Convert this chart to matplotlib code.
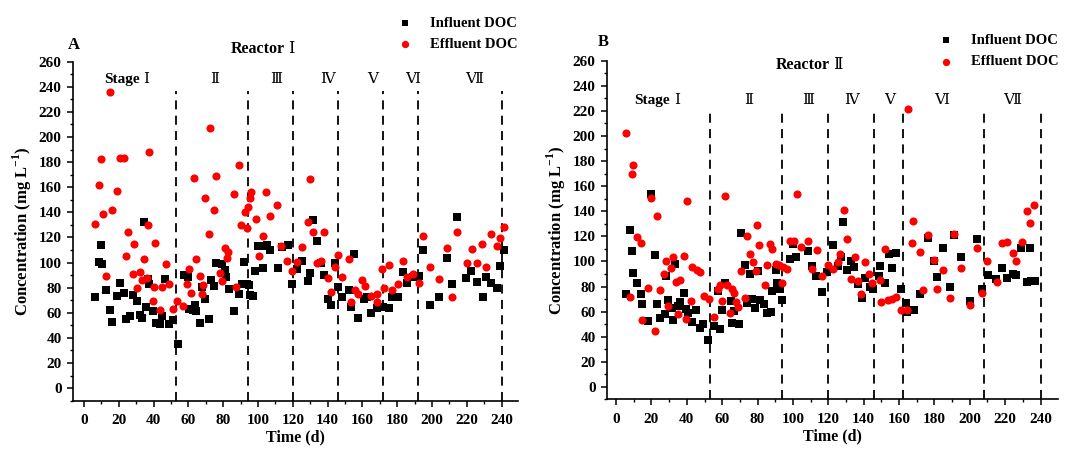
import matplotlib
matplotlib.use("Agg")
import matplotlib.pyplot as plt
from matplotlib.ticker import MultipleLocator

plt.rcParams['font.family'] = ['Liberation Serif', 'DejaVu Serif', 'Noto Sans CJK SC']
plt.rcParams['mathtext.fontset'] = 'custom'
plt.rcParams['mathtext.rm'] = 'Liberation Serif:bold'
plt.rcParams['mathtext.bf'] = 'Liberation Serif:bold'

# Reactor I
a_inf_day = [6.5, 8.6, 9.6, 10.5, 12.8, 14.8, 15.9, 19, 20.9, 23.2, 23.9, 26.3, 28.4, 30.3, 32.2, 33.5,
             34.5, 35.5, 36.8, 37.4, 39.7, 41.4, 43.7, 44.8, 46.7, 48.9, 51.1, 54, 57.3, 59.6, 60.3, 62.4,
             63.6, 64.5, 66.7, 67.8, 69.7, 71.8, 72.8, 74.7, 76, 79.1, 80.8, 81.8, 83.1, 86, 89.3, 90.6,
             92.1, 93.4, 95, 95.6, 97.3, 98.3, 100.2, 102.7, 103.4, 105.4, 106.9, 111.3, 113.6, 117, 119.4,
             122.6, 125.5, 128.5, 129.7, 131.4, 133.7, 136, 137.7, 140, 142, 144.3, 146.2, 148.1, 152.5,
             153.4, 155.3, 157.7, 161.1, 162.8, 164.8, 168.2, 172, 175.5, 177, 180.5, 183.5, 185.4, 188.9,
             192.7, 194.8, 199, 204.2, 208.3, 211.3, 214.6, 219.5, 222.6, 225.9, 229, 231, 234.1, 237.2,
             239.1, 241.4]
a_inf_doc = [72.9, 100.3, 114.1, 99, 78.5, 62.1, 52.5, 73.5, 84.1, 76.1, 54.9, 57.6, 74.3, 69.3, 58.4, 56,
             132.4, 64.5, 86.8, 83, 61.3, 52, 51.4, 57.6, 86.8, 51.4, 54.4, 35, 90.2, 88.6, 63.1, 62.6,
             66.6, 61.8, 51.8, 80.9, 70.9, 55.4, 86, 81.7, 100, 98.7, 94.2, 88.9, 79.3, 61.5, 75.1, 83.3,
             100.3, 83.3, 82.2, 74.3, 73.2, 93.6, 113.5, 96, 113.5, 114.3, 109.9, 96, 112.3, 114.1, 83,
             94.7, 101.6, 85.7, 91.6, 134, 117.5, 99.5, 90.2, 71.1, 66.3, 99.5, 80.4, 72.9, 78,
             65, 106.7, 55.7, 71.1, 72.9, 59.7, 63.7, 64.5, 64.2, 72.9, 72.9, 92.6, 84.1, 88.9,
             89.4, 109.9, 66.3, 72.5, 104, 83, 136, 88.1, 93.6, 84.9, 72.5, 88.9, 83.6, 79.6,
             97.4, 110.1]
a_eff_day = [6.3, 8.6, 9.8, 10.7, 12.8, 14.9, 15.9, 19, 20.9, 23.2, 23.9, 25.5, 28.2, 28.7, 30.3, 32.2,
             33.2, 34.5, 36, 36.6, 37.4, 39.7, 40.4, 40.6, 43.5, 44.8, 46.9, 48.9, 51, 53.7, 57.1, 59.4,
             60.3, 61.3, 63.4, 64.2, 66.5, 67.6, 68.6, 69.5, 71.7, 72.6, 74.9, 75.9, 78.2, 79.2, 80.8,
             81.9, 82.9, 86, 87.2, 89.3, 90.2, 92.5, 93.4, 94.4, 95.4, 96.2, 98.7, 100.3, 102.7, 104.6,
             106.9, 111.1, 113, 116.5, 119.4, 122.6, 125.5, 128.5, 129.7, 131.6, 133.7, 136, 137.8, 140,
             142, 144.3, 146.2, 148.1, 152.5, 153.4, 155.7, 157.7, 159.6, 161.7, 164.8, 168.2, 168.4,
             171.1, 172.2, 175.1, 177, 180.5, 183.5, 185.4, 188.9, 192.7, 194.8, 199, 204.2, 208.3, 211.3,
             214.6, 219.9, 222.8, 225.9, 228.9, 231, 234.1, 237.2, 239.3, 241.4]
a_eff_doc = [130.8, 161.9, 182.3, 138.8, 89.4, 236.2, 141.7, 156.8, 183.6, 183.6, 105.1, 124.2, 90.8, 114.9,
             79.6, 92.8, 86.2, 102.7, 88.1, 130, 187.9, 69.7, 80.4, 115.7, 62.3, 80.7, 99, 83.3, 63.4, 69.7,
             65.8, 83.3, 95, 76.1, 167.4, 102.9, 89.4, 75.3, 82.2, 151.5, 122.9, 207.5, 142, 169.3, 91.6,
             85.4, 111.7, 103.7, 108.3, 154.5, 80.7, 177.5, 130.3, 140.1, 127.4, 144.1, 151.8, 156, 134.8,
             105.1, 121.3, 156, 137.4, 145.7, 113.5, 101.1, 93.6, 100.8, 112.3, 132.4, 166.9, 124.2, 99.5,
             101.6, 124.2, 87.6, 76.4, 96.6, 105.9, 88.6, 102.9, 69, 78.3, 75.1, 86, 81.4, 73.7, 68.5, 75.1,
             94.7, 80.1, 98.4, 78, 82.8, 101.1, 88.4, 90.8, 83.6, 121.3, 96.3, 87, 112, 72.9,
             124.2, 100, 110.9, 100, 114.9, 96.8, 122.9, 113.1, 119.4, 128.2]

# Reactor II
b_inf_day = [5.6, 7.9, 8.8, 9.8, 11.9, 13.9, 14.9, 18.3, 19.8, 22, 23.2, 25, 27.7, 28.1, 29.2, 31.4, 32.2,
             33.3, 35.2, 36.1, 38.2, 39.5, 40.8, 43.1, 45.2, 47.4, 49.3, 52.1, 55.5, 57.6, 58.7, 59.7, 61.5,
             64.8, 65.5, 66.6, 69.6, 70.6, 72.7, 74, 75.8, 77, 78.7, 80, 81.3, 83.7, 85.1, 87.4, 88.3, 90.2,
             91.1, 92.6, 93.9, 98.3, 100.1, 102, 108.6, 110.5, 113.3, 116.5, 119.3, 122.7, 125.7, 126.9,
             128.4, 130.6, 133.1, 134.6, 136.8, 139.1, 141, 143.4, 145.3, 148.5, 149.5, 152.3, 154.3, 156.2,
             158.1, 161.3, 164.1, 164.5, 168.4, 171.7, 176.6, 179.6, 181.6, 184.6, 188.8, 191, 194.8, 199.9,
             204.2, 206.8, 210.2, 214.9, 218.1, 221.3, 224.2, 226.4, 229.2, 232.1, 234.3, 234.5, 236.6]
b_inf_doc = [74.4, 125.1, 108, 90.7, 82.7, 73.9, 66.4, 52.6, 153.9, 105.1, 66.4, 55.2, 57.9, 88.6, 69.6, 62.7,
             53.4, 97.9, 64.3, 67.8, 75.2, 61.9, 59.2, 52, 61.4, 47.2, 49.9, 37.4, 48.8, 76.6, 46.4, 61.4, 82.7,
             68.6, 51, 60.6, 50.2, 122.7, 97.1, 67.2, 90.4, 69.9, 62.7, 92.6, 69.1, 65.9, 59.2, 60, 76.3, 93.1,
             82.7, 77.9, 69.4, 101.9, 113.9, 103.8, 108.6, 96.6, 88.6, 76, 92, 113.4, 96.6, 103.2,
             131.2, 93.1, 100, 95.2, 81.9, 71.2, 87.2, 80, 78.2, 88.6, 96, 83.2, 105.9, 94.7,
             106.4, 77.9, 67.2, 60, 61.1, 74.4, 118.4, 100, 87.8, 110.4, 79.5, 121.4, 103.8, 68.6,
             117.9, 78.4, 89.4, 85.9, 94.7, 86.7, 90.4, 89.1, 110.7, 84, 110.7, 84.6, 84.6]
b_eff_day = [5.6, 7.9, 8.8, 9.6, 11.9, 13.9, 14.7, 17.9, 19.8, 22, 23, 24.8, 26.9, 28.1, 29.2, 31.1, 32.4,
             33.9, 35.2, 36.1, 38.4, 39.5, 40.3, 42.3, 43.1, 45.5, 47.6, 49.5, 52.3, 55.5, 57.4, 58.7, 59.7,
             61.5, 62.8, 64.5, 65.7, 66.8, 67.6, 69.1, 70.6, 72.7, 73.8, 75.8, 77.2, 78.9, 79.8, 80.9, 84,
             85.1, 87, 87.9, 90.2, 92.2, 93.9, 94.1, 96.4, 98.3, 100.5, 102.2, 104.3, 108.6, 110.5, 113.7,
             116.7, 119.9, 122.7, 125.5, 126.5, 128.6, 130.6, 132.7, 135, 136.8, 138.7, 141, 142.9, 144.7,
             149.1, 150, 151.9, 153.8, 156.2, 158.1, 161.3, 164.5, 165, 167.5, 167.9, 171.7, 173.6, 176.3,
             179.7, 181.6, 184.8, 188.8, 190.9, 194.8, 199.9, 204, 206.8, 209.9, 215.3, 218.1, 221.3, 224.2,
             226.4, 229.4, 232.2, 234.2, 236.4]
b_eff_doc = [202.4, 72, 169.6, 176.6, 119.2, 114.7, 53.4, 79.2, 150.7, 44.8, 136, 77.4, 89.9, 100.6, 64.6, 94.7,
             103.2, 83.8, 57.9, 85.4, 104.6, 53.9, 148.3, 68.6, 95.2, 93.4, 91.8, 72.6, 70.4, 55.8, 77.9, 81.4,
             68.3, 152, 81.4, 58.7, 78.4, 75, 68, 63.8, 92.6, 71.2, 120.6, 105.9, 99.8, 92.6, 129.1, 113.4, 81.4,
             97.1, 113.9, 109.6, 97.9, 97.4, 82.7, 95.2, 93.9, 116, 116, 153.4, 111.8, 116, 93.9, 109.1,
             88.6, 97.1, 93.9, 99.8, 105.9, 141.1, 117.9, 86.4, 103.2, 84.6, 73.9, 99.2, 89.9, 83,
             85.1, 67.8, 109.9, 69.4, 70.2, 71.8, 61.4, 61.1, 221.9, 114.7, 132.6, 107.8, 77.4, 121.1,
             101.4, 78.2, 93.1, 71.2, 121.9, 95, 65.4, 110.4, 75, 100, 84, 114.4, 115.2, 106.4,
             100.3, 115.8, 140.6, 130.4, 144.8]

a_bounds = [53, 94, 120, 146, 172, 192, 240]
b_bounds = [53, 94, 120, 146, 162, 208, 240]
stage_names = ['Ⅰ', 'Ⅱ', 'Ⅲ', 'Ⅳ', 'Ⅴ', 'Ⅵ', 'Ⅶ']
a_stage_x = [28.5, 75.3, 110.3, 140, 165.7, 189, 224.3]
b_stage_x = [27.1, 75.1, 108.6, 133.4, 154.7, 184.3, 224]

fig = plt.figure(figsize=(10.71, 4.51), dpi=100)
axA = fig.add_axes([0.0679, 0.1115, 0.4158, 0.7517])
axB = fig.add_axes([0.5665, 0.1142, 0.4214, 0.7512])


def style(ax, xlim):
    ax.set_xlim(*xlim)
    ax.set_ylim(-10, 260)
    ax.spines['top'].set_visible(False)
    ax.spines['right'].set_visible(False)
    for s in ('left', 'bottom'):
        ax.spines[s].set_linewidth(1.2)
    ax.xaxis.set_major_locator(MultipleLocator(20))
    ax.xaxis.set_minor_locator(MultipleLocator(10))
    ax.yaxis.set_major_locator(MultipleLocator(20))
    ax.yaxis.set_minor_locator(MultipleLocator(10))
    ax.tick_params(which='major', direction='out', length=4.5, width=1.1, labelsize=11)
    ax.tick_params(which='minor', direction='out', length=2.5, width=1.0)
    ax.tick_params(axis='x', pad=5)
    for lab in ax.get_xticklabels() + ax.get_yticklabels():
        lab.set_fontweight('bold')
    ax.set_xlabel('Time (d)', fontsize=11.5, fontweight='bold', labelpad=2)
    ax.set_ylabel(r'Concentration (mg L$^{-1}$)', fontsize=12, fontweight='bold', labelpad=3)


def panel(ax, inf_d, inf_c, eff_d, eff_c, bounds, top, stage_x, stage_y, xlim):
    ax.scatter(inf_d, inf_c, marker='s', s=26, c='black', linewidths=0, label='Influent DOC', zorder=3)
    ax.scatter(eff_d, eff_c, marker='o', s=34, c='#ff0000', linewidths=0, label='Effluent DOC', zorder=4)
    ax.vlines(bounds, -10, top, colors='black', linestyles=(0, (5, 3.5)), linewidth=1.3, zorder=2)
    for i, (sx, nm) in enumerate(zip(stage_x, stage_names)):
        if i == 0:
            ax.text(sx + 3.5, stage_y, 'Stage', fontsize=11, fontweight='bold', ha='right', va='center')
            ax.text(sx + 5.5, stage_y, nm, fontsize=11, ha='left', va='center')
        else:
            ax.text(sx, stage_y, nm, fontsize=11, ha='center', va='center')
    style(ax, xlim)


panel(axA, a_inf_day, a_inf_doc, a_eff_day, a_eff_doc, a_bounds, 237, a_stage_x, 246, (-6.5, 249.4))
panel(axB, b_inf_day, b_inf_doc, b_eff_day, b_eff_doc, b_bounds, 222, b_stage_x, 228.6, (-5.3, 249.9))

axA.text(115.3, 270, 'Reactor', fontsize=11.5, fontweight='bold', ha='right', va='center', clip_on=False)
axA.text(117, 270, 'Ⅰ', fontsize=11.5, ha='left', va='center', clip_on=False)
axB.text(120.8, 256.6, 'Reactor', fontsize=11.5, fontweight='bold', ha='right', va='center')
axB.text(122.5, 256.6, 'Ⅱ', fontsize=11.5, ha='left', va='center')

fig.text(74 / 1071, 1 - 45 / 451, 'A', fontsize=12, fontweight='bold', ha='center', va='center')
fig.text(603.3 / 1071, 1 - 41.7 / 451, 'B', fontsize=12, fontweight='bold', ha='center', va='center')

for ax, lx, ly in ((axA, 390 / 1071, 1 - 16.5 / 451), (axB, 931 / 1071, 1 - 34 / 451)):
    ax.legend(loc='upper left', bbox_to_anchor=(lx, ly), bbox_transform=fig.transFigure,
              frameon=False, prop={'weight': 'bold', 'size': 10.5}, handletextpad=0.75,
              labelspacing=0.55, borderpad=0, borderaxespad=0, markerscale=0.9)

fig.savefig('out.png', dpi=100)
